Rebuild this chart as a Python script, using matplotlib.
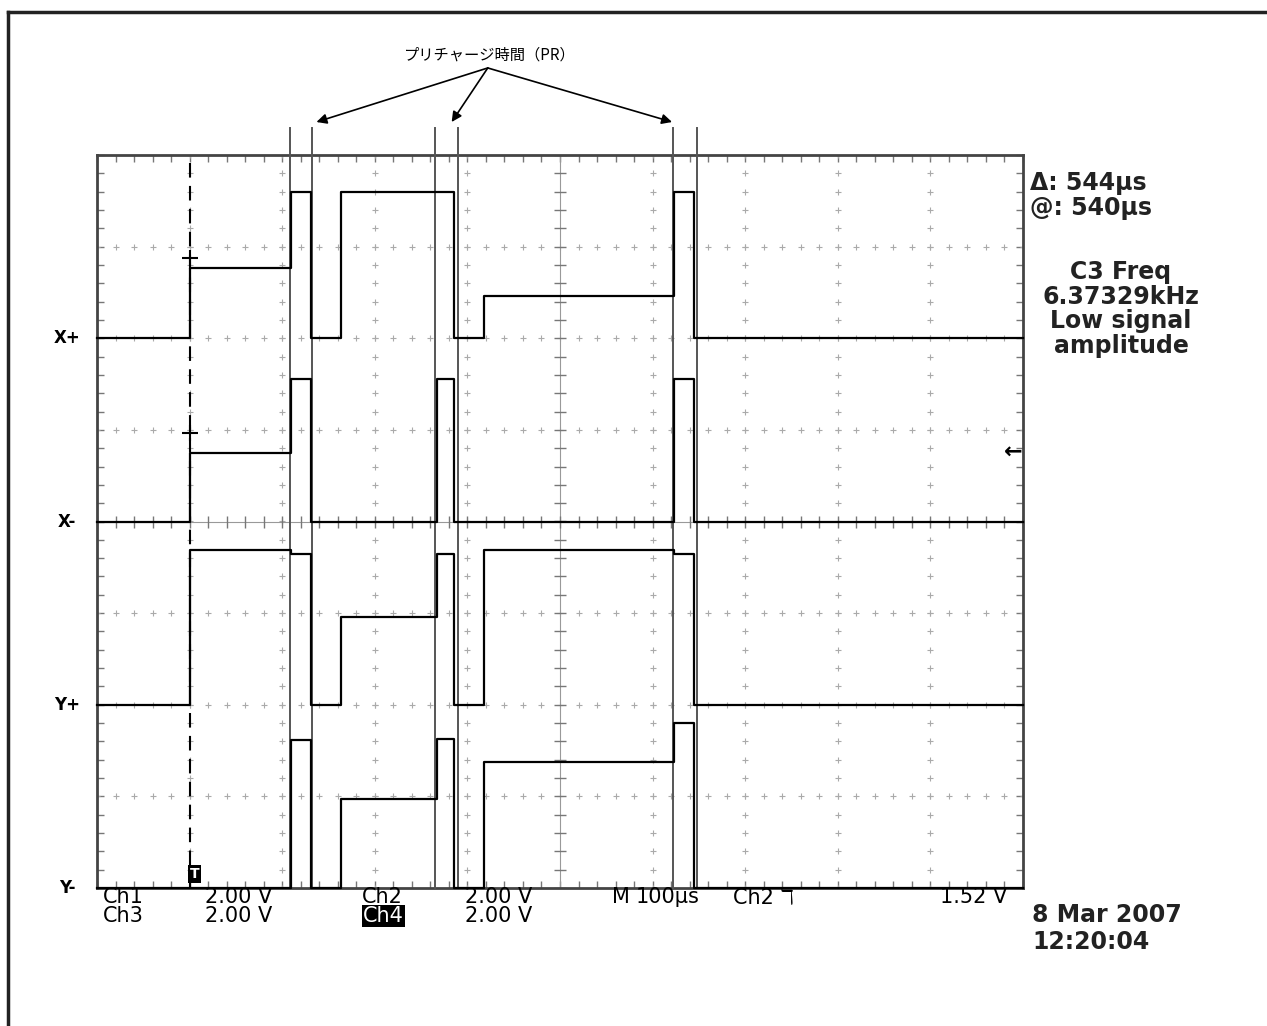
import matplotlib
matplotlib.use('Agg')
import matplotlib.pyplot as plt
from matplotlib.lines import Line2D
import numpy as np

plt.rcParams['font.family'] = ['DejaVu Sans', 'Noto Sans CJK JP']

# scope settings
volts_per_div = 2.0
time_per_div_us = 100
trigger_us = 100
trigger_level_v = 1.52

# step waveforms: level (V) held from each edge to the next
time_edges_us = [0, 100, 209, 231, 264, 367, 385, 418, 623, 645, 1000]
x_plus_v = [0, 1.53, 3.2, 0, 3.2, 3.2, 0, 0.92, 3.2, 0]
x_minus_v = [0, 1.5, 3.12, 0, 0, 3.12, 0, 0, 3.12, 0]
y_plus_v = [0, 3.38, 3.3, 0, 1.92, 3.3, 0, 3.38, 3.3, 0]
y_minus_v = [0, 0, 3.23, 0, 1.94, 3.25, 0, 2.75, 3.6, 0]

channel_labels = ['X+', 'X-', 'Y+', 'Y-']
channel_offsets_div = [2, 0, -2, -4]
channel_levels = [x_plus_v, x_minus_v, y_plus_v, y_minus_v]

# precharge windows marked above the screen
pr_windows_us = [(208, 232), (365, 390), (622, 648)]
pr_label = 'プリチャージ時間（PR）'

# cursor crosshair marks on the trigger line (divisions)
cursor_marks_div = [2.88, 0.97]

readout_top = ['Δ: 544µs', '@: 540µs']
readout_meas = ['C3 Freq', '6.37329kHz', 'Low signal', 'amplitude']
date_lines = ['8 Mar 2007', '12:20:04']

W, H = 1267, 1026
fig = plt.figure(figsize=(W / 100, H / 100), dpi=100)
fig.patch.set_facecolor('white')


def fpx(x, y):
    return x / W, 1 - y / H


# outer frame (top and left edges only)
fig.add_artist(Line2D([8 / W, 1], [1 - 12 / H, 1 - 12 / H], transform=fig.transFigure,
                      color='#222222', lw=2.5))
fig.add_artist(Line2D([8 / W, 8 / W], [0, 1 - 12 / H], transform=fig.transFigure,
                      color='#222222', lw=2.5))

ax = fig.add_axes([97 / W, 1 - 888 / H, (1023 - 97) / W, (888 - 155) / H])
ax.set_xlim(0, 10 * time_per_div_us)
ax.set_ylim(-4, 4)
for s in ax.spines.values():
    s.set_color('#444444')
    s.set_linewidth(2)
ax.set_xticks(np.arange(0, 1001, 100))
ax.set_yticks(np.arange(-4, 5, 1))
ax.set_xticks(np.arange(0, 1001, 20), minor=True)
ax.set_yticks(np.arange(-4, 4.01, 0.2), minor=True)
ax.tick_params(which='both', direction='in', length=5, width=1, color='#777777',
               top=True, right=True, labelbottom=False, labelleft=False)

# graticule: dotted crosses along each division line
yy = np.arange(-4, 4.01, 0.2)
xx = np.arange(0, 1001, 20)
for k in range(1, 10):
    if k == 5:
        continue
    ax.plot(np.full_like(yy, k * 100), yy, '+', color='#aaaaaa', ms=4, mew=0.8)
for j in range(-3, 4):
    if j == 0:
        continue
    ax.plot(xx, np.full_like(xx, j, dtype=float), '+', color='#aaaaaa', ms=4, mew=0.8)
# centre cross with finer ticks
ax.axvline(500, color='#999999', lw=0.8)
ax.axhline(0, color='#999999', lw=0.8)
ax.plot(np.full_like(yy, 500), yy, '_', color='#777777', ms=9, mew=1)
ax.plot(xx, np.zeros_like(xx, dtype=float), '|', color='#777777', ms=9, mew=1)

# trigger cursor
ax.axvline(trigger_us, color='black', lw=1.5, ls=(0, (7, 4)))
ax.plot([trigger_us] * len(cursor_marks_div), cursor_marks_div, '+', color='black',
        ms=12, mew=1.5)
ax.text(trigger_us, -3.85, 'T', color='white', fontsize=10, fontweight='bold',
        ha='left', va='center',
        bbox=dict(facecolor='black', edgecolor='none', pad=1.5))

# traces
for levels, off in zip(channel_levels, channel_offsets_div):
    y = off + np.array(levels + [levels[-1]]) / volts_per_div
    ax.step(time_edges_us, y, where='post', color='black', lw=1.6, clip_on=False,
            zorder=4)

# channel labels
for lab, off in zip(channel_labels, channel_offsets_div):
    ax.text(-32, off, lab, ha='center', va='center', fontsize=12, fontweight='bold',
            clip_on=False)

# trigger level marker
ax.text(1000, trigger_level_v / volts_per_div, '←', ha='right', va='center',
        fontsize=16, fontweight='bold')

# precharge window lines and arrows
for t0, t1 in pr_windows_us:
    for t in (t0, t1):
        ax.plot([t, t], [-4, 4.3], color='#555555', lw=1.4, clip_on=False, zorder=3)
arrow_start = (422, 4.95)
ax.text(424, 5.09, pr_label, ha='center', va='center', fontsize=11,
        family=['Noto Sans CJK JP', 'DejaVu Sans'])
for tx in (237, 383, 621):
    ax.annotate('', xy=(tx, 4.36), xytext=arrow_start, annotation_clip=False,
                arrowprops=dict(arrowstyle='-|>', color='black', lw=1.2,
                                mutation_scale=15, shrinkA=0, shrinkB=0))

# readouts
rfont = dict(fontsize=17, fontweight='bold', color='#222222', va='center')
for i, s in enumerate(readout_top):
    fig.text(*fpx(1030, 183 + 25 * i), s, ha='left', **rfont)
for i, s in enumerate(readout_meas):
    fig.text(*fpx(1121, 272 + 24.5 * i), s, ha='center', **rfont)
for i, s in enumerate(date_lines):
    fig.text(*fpx(1032, 915 + 27 * i), s, ha='left', **rfont)

bfont = dict(fontsize=15, color='black', va='center', ha='left')
row1 = [(103, 'Ch1'), (205, '2.00 V'), (362, 'Ch2'), (465, '2.00 V'),
        (612, 'M'), (636, '100µs'), (733, 'Ch2 ℸ'), (940, '1.52 V')]
row2 = [(103, 'Ch3'), (205, '2.00 V'), (465, '2.00 V')]
for x, s in row1:
    fig.text(*fpx(x, 897), s, **bfont)
for x, s in row2:
    fig.text(*fpx(x, 916), s, **bfont)
fig.text(*fpx(363, 916), 'Ch4', color='white', fontsize=15, va='center', ha='left',
         bbox=dict(facecolor='black', edgecolor='none', pad=0.5))

fig.savefig('out.png', dpi=100, facecolor='white')
